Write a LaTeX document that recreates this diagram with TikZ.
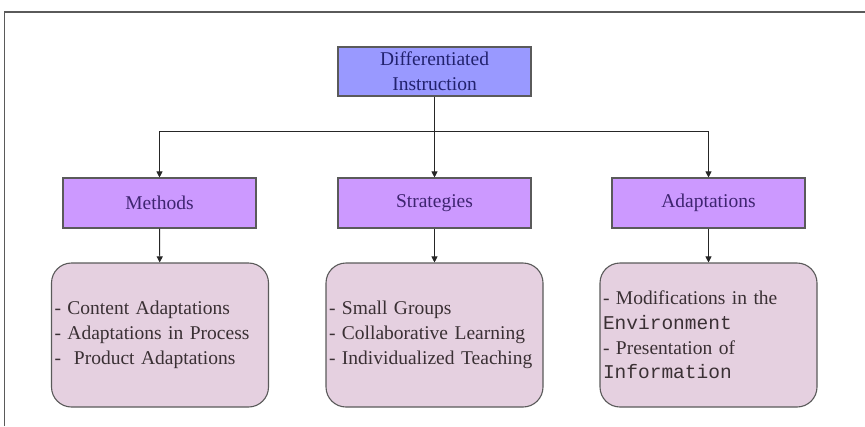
\documentclass[tikz,border=0pt]{standalone}
\usepackage{fontspec}
\setmainfont{Liberation Serif}
\setmonofont{Liberation Mono}
\usetikzlibrary{arrows.meta}
\definecolor{topfill}{HTML}{9999FF}
\definecolor{midfill}{HTML}{CC99FF}
\definecolor{botfill}{HTML}{E5D0E0}
\definecolor{edgegray}{HTML}{5A5A5A}
\definecolor{toptext}{HTML}{22226E}
\definecolor{midtext}{HTML}{3E2470}
\definecolor{bottext}{HTML}{3A3034}
\tikzset{
  topbox/.style={draw=edgegray, line width=1.1pt, fill=topfill, minimum width=193pt, minimum height=49pt,
    inner sep=0pt, align=center, text=toptext, font=\fontsize{19.5}{25}\selectfont},
  midbox/.style={draw=edgegray, line width=1.1pt, fill=midfill, minimum width=193pt, minimum height=50pt,
    inner sep=0pt, text=midtext, font=\fontsize{19.5}{24.5}\selectfont},
  botbox/.style={draw=edgegray, line width=1.1pt, fill=botfill, rounded corners=20pt, text width=211pt,
    minimum height=144pt, inner xsep=3pt, inner ysep=0pt, align=left, text=bottext,
    font=\fontsize{19.5}{24.7}\selectfont},
  conn/.style={draw=black!85, line width=0.9pt},
  arr/.style={conn, -{Triangle[length=6pt,width=6pt]}},
  frame/.style={draw=edgegray, line width=1.3pt}
}
\begin{document}
\begin{tikzpicture}[x=1pt,y=-1pt]
\useasboundingbox (0,0) rectangle (865,426);
\draw[frame] (4.5,426) -- (4.5,12) -- (865,12);
\node[topbox] (top) at (434.5,71.5) {Differentiated\\Instruction};
\node[midbox] (meth) at (159.5,203) {Methods};
\node[midbox] (strat) at (434.5,203) {Strategies};
\node[midbox] (adapt) at (708.5,203) {Adaptations};
\node[botbox] (bmeth) at (160,335) {- Content Adaptations\\- Adaptations in Process\\-\ \ Product Adaptations};
\node[botbox] (bstrat) at (434.5,335) {- Small Groups\\- Collaborative Learning\\- Individualized Teaching};
\node[botbox] (badapt) at (708.5,335) {- Modifications in the\\\texttt{Environment}\\- Presentation of\\\texttt{Information}};
\coordinate (hub) at (434.5,131);
\draw[conn] (top) -- (hub);
\draw[arr] (hub) -| (meth);
\draw[arr] (hub) -- (strat);
\draw[arr] (hub) -| (adapt);
\draw[arr] (meth) -- (bmeth);
\draw[arr] (strat) -- (bstrat);
\draw[arr] (adapt) -- (badapt);
\end{tikzpicture}
\end{document}
